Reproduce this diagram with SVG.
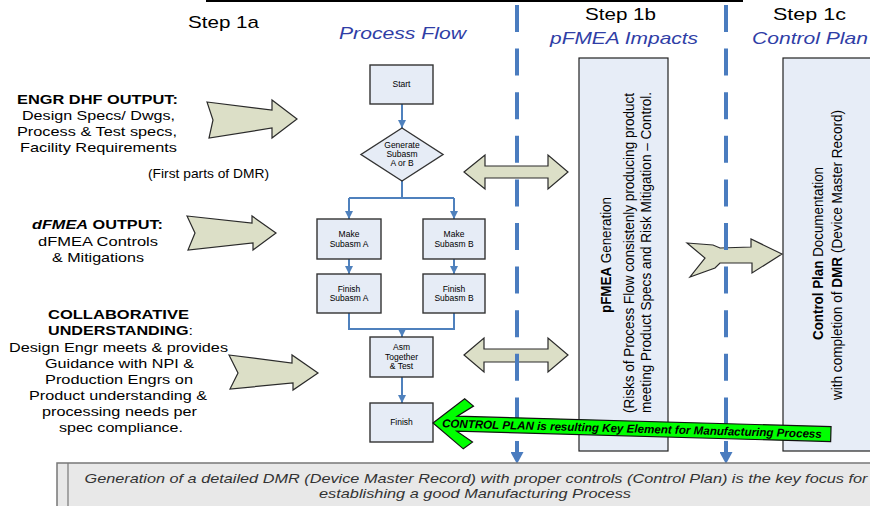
<svg xmlns="http://www.w3.org/2000/svg" width="870" height="506" viewBox="0 0 870 506">
<defs>
<style>
text{font-family:"Liberation Sans",Arial,sans-serif;fill:#000}
.hd{font-size:17px;text-anchor:middle}
.sub{font-size:17px;font-style:italic;fill:#2f3ea6;text-anchor:middle}
.lt{font-size:13px;text-anchor:middle}
.b{font-weight:bold}
.box{fill:#e6ecf6;stroke:#333;stroke-width:1.4}
.ft{font-size:8.5px;text-anchor:middle}
.tall{fill:#e7edf7;stroke:#222;stroke-width:1.2}
.rt{font-size:15px;text-anchor:middle}
.blk{fill:#dcdfc7;stroke:#2a2a2a;stroke-width:1.2;stroke-linejoin:miter}
.flow{fill:none;stroke:#4f81bd;stroke-width:2}
.lane{fill:none;stroke:#4a7cbf;stroke-width:4;stroke-dasharray:27 16.6}
.note{font-size:13px;font-style:italic;fill:#333;text-anchor:middle}
</style>
<marker id="ah" viewBox="0 0 10 10" refX="10" refY="5" markerWidth="8" markerHeight="8" markerUnits="userSpaceOnUse" orient="auto" preserveAspectRatio="none"><path d="M0,0L10,5L0,10z" fill="#4f81bd"/></marker>
<marker id="ahBig" viewBox="0 0 10 10" refX="0" refY="5" markerWidth="12" markerHeight="13" markerUnits="userSpaceOnUse" orient="auto" preserveAspectRatio="none"><path d="M0,0L10,5L0,10z" fill="#4a7cbf"/></marker>
</defs>

<!-- title rule -->
<line x1="206" y1="1" x2="743" y2="1" stroke="#000" stroke-width="2"/>

<!-- column headers -->
<g id="headers">
<text class="hd" x="223.5" y="28" textLength="71" lengthAdjust="spacingAndGlyphs">Step 1a</text>
<text class="sub" x="402.5" y="39" textLength="127" lengthAdjust="spacingAndGlyphs">Process Flow</text>
<text class="hd" x="620.5" y="20" textLength="71" lengthAdjust="spacingAndGlyphs">Step 1b</text>
<text class="sub" x="624" y="44" textLength="148" lengthAdjust="spacingAndGlyphs">pFMEA Impacts</text>
<text class="hd" x="809.5" y="20" textLength="73" lengthAdjust="spacingAndGlyphs">Step 1c</text>
<text class="sub" x="810" y="44" textLength="116" lengthAdjust="spacingAndGlyphs">Control Plan</text>
</g>

<!-- input notes on the left -->
<g id="engr-dhf-output">
<text class="lt b" x="97.5" y="104" textLength="161" lengthAdjust="spacingAndGlyphs">ENGR DHF OUTPUT:</text>
<text class="lt" x="98.5" y="120" textLength="153" lengthAdjust="spacingAndGlyphs">Design Specs/ Dwgs,</text>
<text class="lt" x="97" y="136" textLength="160" lengthAdjust="spacingAndGlyphs">Process &amp; Test specs,</text>
<text class="lt" x="98.5" y="152" textLength="157" lengthAdjust="spacingAndGlyphs">Facility Requirements</text>
<text class="lt" x="208.5" y="178" font-size="11" textLength="121" lengthAdjust="spacingAndGlyphs">(First parts of DMR)</text>
</g>
<g id="dfmea-output">
<text class="lt b" x="97.5" y="229" textLength="131" lengthAdjust="spacingAndGlyphs"><tspan font-style="italic">dFMEA</tspan> OUTPUT:</text>
<text class="lt" x="98" y="246" textLength="120" lengthAdjust="spacingAndGlyphs">dFMEA Controls</text>
<text class="lt" x="98" y="262" textLength="92" lengthAdjust="spacingAndGlyphs">&amp; Mitigations</text>
</g>
<g id="collaborative-understanding">
<text class="lt b" x="118.5" y="319" textLength="141" lengthAdjust="spacingAndGlyphs">COLLABORATIVE</text>
<text class="lt" x="120.5" y="335" textLength="145" lengthAdjust="spacingAndGlyphs"><tspan font-weight="bold">UNDERSTANDING</tspan>:</text>
<text class="lt" x="118.5" y="352" textLength="219" lengthAdjust="spacingAndGlyphs">Design Engr meets &amp; provides</text>
<text class="lt" x="119.5" y="368" textLength="149" lengthAdjust="spacingAndGlyphs">Guidance with NPI &amp;</text>
<text class="lt" x="119" y="384" textLength="148" lengthAdjust="spacingAndGlyphs">Production Engrs on</text>
<text class="lt" x="118" y="400" textLength="178" lengthAdjust="spacingAndGlyphs">Product understanding &amp;</text>
<text class="lt" x="119.5" y="416" textLength="155" lengthAdjust="spacingAndGlyphs">processing needs per</text>
<text class="lt" x="121" y="432" textLength="124" lengthAdjust="spacingAndGlyphs">spec compliance.</text>
</g>

<!-- block arrows -->
<g id="block-arrows">
<path class="blk" d="M207,102 L272,110 L272,100 L297,119 L272,138 L272,128 L209,138 L213,120 Z"/>
<path class="blk" d="M187,216 L252,223 L252,216 L276,233 L253,250 L253,243 L188,250 L195,233 Z"/>
<path class="blk" d="M229,355 L292,363 L292,355 L318,373 L293,390 L293,383 L230,389 L238,373 Z"/>
<path class="blk" d="M464,172 L485,155 L485,166 L548,166 L548,155 L568,172 L548,189 L548,178 L485,178 L485,189 Z"/>
<path class="blk" d="M464,355 L484,338 L484,349 L548,349 L548,338 L568,355 L548,372 L548,362 L484,362 L484,372 Z"/>
<path class="blk" d="M687,243 L713,245 L720,248 L751,247 L751,239 L782,254 L752,273 L752,263 L720,263 L715,268 L690,277 L705,258 Z"/>
</g>

<!-- swim-lane dividers -->
<g id="lanes">
<path class="lane" d="M517,5 V452" marker-end="url(#ahBig)"/>
<path class="lane" d="M726,5 V452" marker-end="url(#ahBig)"/>
</g>

<!-- process flow connectors -->
<g id="connectors">
<path class="flow" d="M402,104 V128" marker-end="url(#ah)"/>
<path class="flow" d="M402,181 V198 M349,198 H454"/>
<path class="flow" d="M349,198 V219" marker-end="url(#ah)"/>
<path class="flow" d="M454,198 V219" marker-end="url(#ah)"/>
<path class="flow" d="M349,259 V274" marker-end="url(#ah)"/>
<path class="flow" d="M454,259 V274" marker-end="url(#ah)"/>
<path class="flow" d="M349,313 V329 H454 V313"/>
<path class="flow" d="M402,329 V337" marker-end="url(#ah)"/>
<path class="flow" d="M402,377 V403" marker-end="url(#ah)"/>
</g>

<!-- process flow steps -->
<g id="start">
<rect class="box" x="370" y="65" width="63" height="39"/>
<text class="ft" x="401.5" y="87">Start</text>
</g>
<g id="generate-subasm">
<path class="box" d="M402,128 L443,154.5 L402,181 L361,154.5 Z"/>
<text class="ft" x="402" y="148">Generate</text>
<text class="ft" x="402" y="157">Subasm</text>
<text class="ft" x="402" y="166">A or B</text>
</g>
<g id="make-subasm-a">
<rect class="box" x="317" y="219" width="64" height="40"/>
<text class="ft" x="349" y="237">Make</text>
<text class="ft" x="349" y="246.5">Subasm A</text>
</g>
<g id="make-subasm-b">
<rect class="box" x="423" y="219" width="62" height="40"/>
<text class="ft" x="454" y="237">Make</text>
<text class="ft" x="454" y="246.5">Subasm B</text>
</g>
<g id="finish-subasm-a">
<rect class="box" x="317" y="274" width="64" height="39"/>
<text class="ft" x="349" y="291.5">Finish</text>
<text class="ft" x="349" y="301">Subasm A</text>
</g>
<g id="finish-subasm-b">
<rect class="box" x="423" y="274" width="62" height="39"/>
<text class="ft" x="454" y="291.5">Finish</text>
<text class="ft" x="454" y="301">Subasm B</text>
</g>
<g id="asm-together">
<rect class="box" x="370" y="337" width="63" height="40"/>
<text class="ft" x="401.5" y="350">Asm</text>
<text class="ft" x="401.5" y="359.5">Together</text>
<text class="ft" x="401.5" y="369">&amp; Test</text>
</g>
<g id="finish">
<rect class="box" x="370" y="403" width="63" height="39"/>
<text class="ft" x="401.5" y="425">Finish</text>
</g>

<!-- pFMEA column -->
<g id="pfmea">
<rect class="tall" x="579" y="58" width="89" height="393"/>
<text class="rt" transform="translate(611,255) rotate(-90)" textLength="116" lengthAdjust="spacingAndGlyphs"><tspan font-weight="bold">pFMEA</tspan> Generation</text>
<text class="rt" transform="translate(634,253) rotate(-90)" textLength="320" lengthAdjust="spacingAndGlyphs">(Risks of Process Flow consistenly producing product</text>
<text class="rt" transform="translate(651,252.5) rotate(-90)" textLength="321" lengthAdjust="spacingAndGlyphs">meeting Product Specs and Risk Mitigation – Control.</text>
</g>

<!-- Control Plan column -->
<g id="control-plan">
<rect class="tall" x="783" y="58" width="100" height="393"/>
<text class="rt" transform="translate(823,253.5) rotate(-90)" textLength="173" lengthAdjust="spacingAndGlyphs"><tspan font-weight="bold">Control Plan</tspan> Documentation</text>
<text class="rt" transform="translate(842,255) rotate(-90)" textLength="290" lengthAdjust="spacingAndGlyphs">with completion of <tspan font-weight="bold">DMR</tspan> (Device Master Record)</text>
</g>

<!-- feedback arrow into the final step -->
<g id="control-plan-arrow" transform="translate(433,423) rotate(1.6)">
<path d="M0,0 L31,-25 L40,-18 L24,-7.5 L398,-7.5 L398,7.5 L24,7.5 L40,18 L31,25 Z" fill="#00ff00" stroke="#111" stroke-width="1.2" stroke-linejoin="miter"/>
<text x="199" y="4" font-size="11.5" font-weight="bold" font-style="italic" text-anchor="middle" textLength="380" lengthAdjust="spacingAndGlyphs">CONTROL PLAN is resulting Key Element for Manufacturing Process</text>
</g>

<!-- summary banner -->
<g id="summary">
<rect x="57" y="463" width="830" height="60" fill="#e8e8e8" stroke="#777" stroke-width="1.5"/>
<line x1="68" y1="463" x2="68" y2="506" stroke="#777" stroke-width="1.2"/>
<text class="note" x="476" y="483" textLength="783" lengthAdjust="spacingAndGlyphs">Generation of a detailed DMR (Device Master Record) with proper controls (Control Plan) is the key focus for</text>
<text class="note" x="475" y="498" textLength="312" lengthAdjust="spacingAndGlyphs">establishing a good Manufacturing Process</text>
</g>
</svg>
